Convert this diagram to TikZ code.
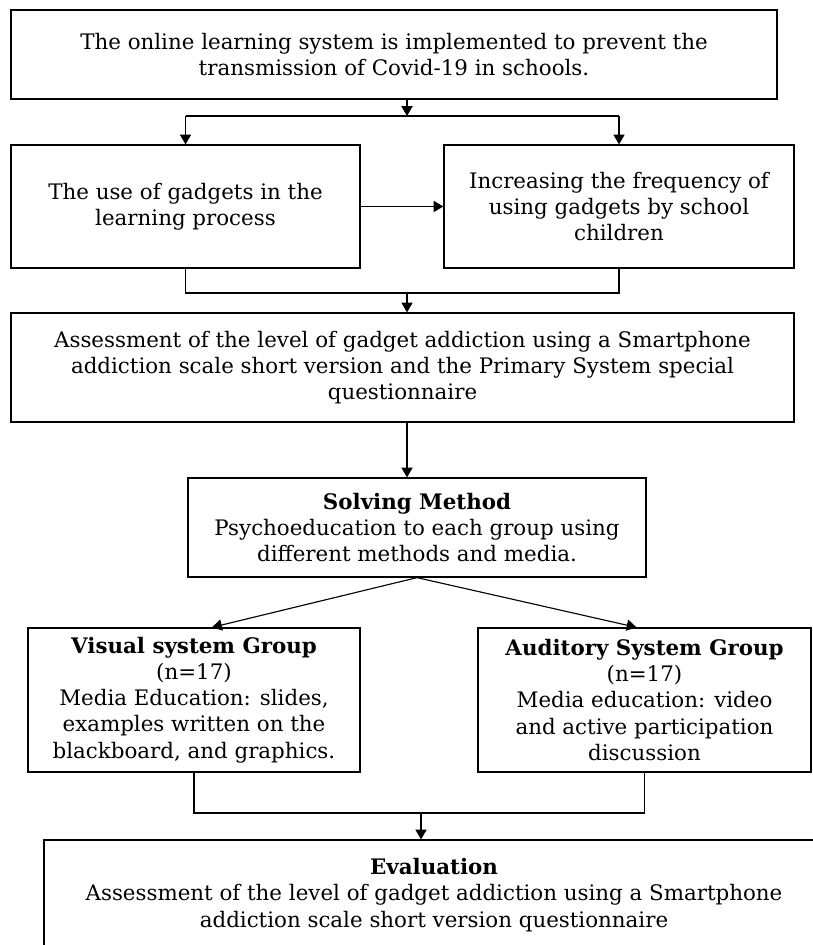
\documentclass[tikz,border=0pt]{standalone}
\usepackage{fontspec}
\setmainfont{DejaVu Serif}
\usepackage{tikz}
\usetikzlibrary{arrows.meta, positioning, calc}

\tikzset{
  box/.style={draw=black, line width=0.9pt, fill=white, align=center, inner sep=2pt,
              font=\fontsize{15.2}{18.6}\selectfont},
  arr/.style={-{Triangle[length=7pt,width=8pt]}, line width=0.8pt},
  ln/.style={line width=0.8pt}
}

\begin{document}
\begin{tikzpicture}

  \useasboundingbox (0,0) rectangle (20.3,23.625);

  % Top
  \node[box, minimum width=19.15cm, minimum height=2.225cm] (online) at (9.85,22.2625)
    {The online learning system is implemented to prevent the\\transmission of Covid-19 in schools.};

  % Second row
  \node[box, minimum width=8.725cm, minimum height=3.075cm] (gadgetuse) at (4.6375,18.4625)
    {The use of gadgets in the\\learning process};
  \node[box, minimum width=8.75cm, minimum height=3.075cm] (frequency) at (15.475,18.4625)
    {Increasing the frequency of\\using gadgets by school\\children};

  % Assessment
  \node[box, minimum width=19.575cm, minimum height=2.725cm] (assess) at (10.0625,14.4375)
    {Assessment of the level of gadget addiction using a Smartphone\\addiction scale short version and the Primary System special\\questionnaire};

  % Solving method
  \node[box, minimum width=11.45cm, minimum height=2.475cm] (solving) at (10.425,10.4375)
    {\textbf{Solving Method}\\Psychoeducation to each group using\\different methods and media.};

  % Groups
  \node[box, minimum width=8.3cm, minimum height=3.6cm] (visual) at (4.85,6.125)
    {\textbf{Visual system Group}\\(n=17)\\Media Education: slides,\\examples written on the\\blackboard, and graphics.};
  \node[box, minimum width=8.325cm, minimum height=3.6cm] (auditory) at (16.1125,6.125)
    {\textbf{Auditory System Group}\\(n=17)\\Media education: video\\and active participation\\discussion};

  % Evaluation
  \node[box, minimum width=19.5cm, minimum height=2.75cm] (evaluation) at (10.85,1.25)
    {\textbf{Evaluation}\\Assessment of the level of gadget addiction using a Smartphone\\addiction scale short version questionnaire};

  % Connectors
  \coordinate (split) at (10.175,20.725);
  \coordinate (mergeA) at (10.175,16.3);
  \coordinate (mergeB) at (10.525,3.3);

  \draw[arr] (online.south -| split) -- (split);
  \draw[ln] (gadgetuse.north |- split) -- (frequency.north |- split);
  \draw[arr] (gadgetuse.north |- split) -- (gadgetuse.north);
  \draw[arr] (frequency.north |- split) -- (frequency.north);

  \draw[arr] (gadgetuse.east) -- (frequency.west);

  \draw[ln] (gadgetuse.south) -- (gadgetuse.south |- mergeA) -- (frequency.south |- mergeA) -- (frequency.south);
  \draw[arr] (mergeA) -- (mergeA |- assess.north);

  \draw[arr] (mergeA |- assess.south) -- (mergeA |- solving.north);

  \draw[arr] (solving.south) -- ([xshift=0.45cm]visual.north);
  \draw[arr] (solving.south) -- ([xshift=-0.2cm]auditory.north);

  \draw[ln] (visual.south) -- (visual.south |- mergeB) -- (auditory.south |- mergeB) -- (auditory.south);
  \draw[arr] (mergeB) -- (mergeB |- evaluation.north);

\end{tikzpicture}
\end{document}
